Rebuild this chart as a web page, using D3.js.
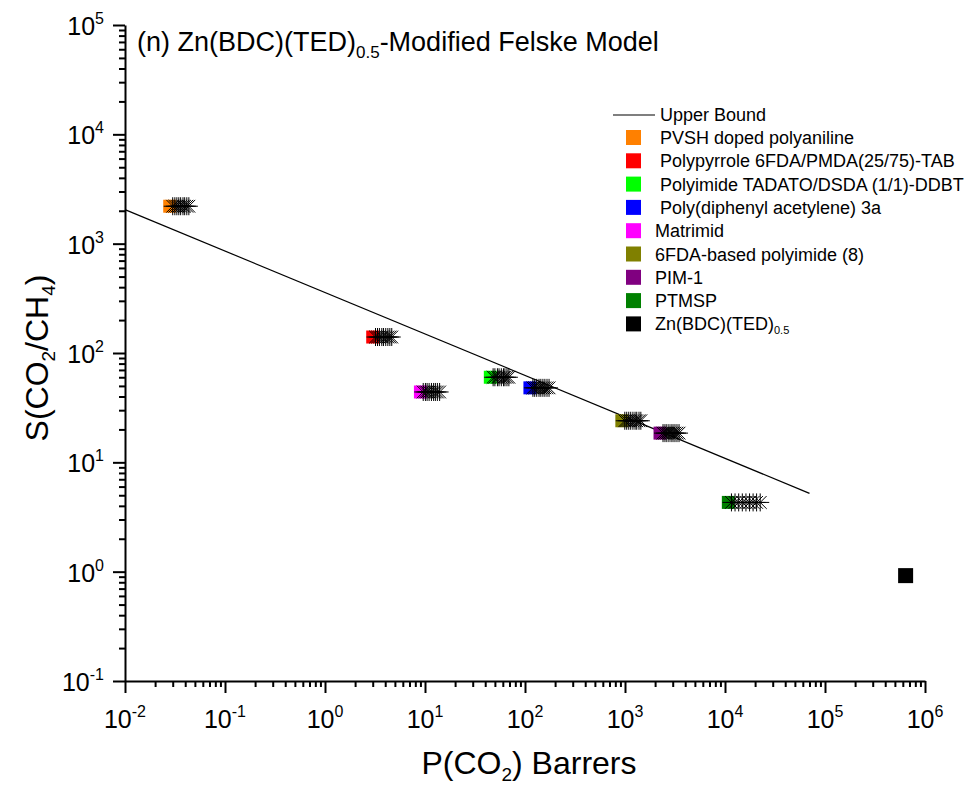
<!DOCTYPE html>
<html>
<head>
<meta charset="utf-8">
<script src="https://cdn.jsdelivr.net/npm/d3@7"></script>
<style>
  html, body { margin: 0; padding: 0; background: #fff; }
  svg { display: block; font-family: "Liberation Sans", Arial, sans-serif; }
  .axis path, .axis line { stroke: #000; stroke-width: 2; }
</style>
</head>
<body>
<svg id="chart" width="974" height="791"></svg>
<script>
// Polymer membranes (legend order) and their CO2/CH4 performance
const polymers = [
  " PVSH doped polyaniline",
  " Polypyrrole 6FDA/PMDA(25/75)-TAB",
  " Polyimide TADATO/DSDA (1/1)-DDBT",
  " Poly(diphenyl acetylene) 3a",
  "Matrimid",
  "6FDA-based polyimide (8)",
  "PIM-1",
  "PTMSP"
];
const polymerColors = ["#FF8000", "#FF0000", "#00FF00", "#0000FF", "#FF00FF", "#808000", "#800080", "#008000"];
const polymerP = [0.028, 3.0, 45, 112, 9.0, 930, 2240, 10800];
const polymerS = [2200, 140, 60, 48, 44, 24, 18.5, 4.3];

// Mixed-matrix predictions (modified Felske model) for each polymer
const mmmP = [
  [0.030, 0.0315, 0.033, 0.0345, 0.036, 0.038, 0.0395, 0.0415, 0.0435],
  [3.2, 3.35, 3.5, 3.7, 3.85, 4.05, 4.25, 4.45, 4.65],
  [48, 50, 53, 55, 58, 61, 63, 66, 69],
  [120, 125, 131, 138, 144, 151, 158, 166, 174],
  [9.6, 10.1, 10.5, 11.0, 11.6, 12.2, 12.7, 13.3, 14.0],
  [995, 1040, 1090, 1140, 1200, 1260, 1310, 1380, 1440],
  [2400, 2510, 2620, 2750, 2890, 3020, 3160, 3310, 3470],
  [11600, 12600, 13700, 14900, 16200, 17600, 19100, 20700, 22500]
];

// MOF filler
const mofLabel = "Zn(BDC)(TED)";
const mofP = 640000;
const mofS = 0.92;

// Upper bound line end points
const upperP = [0.01, 70000];
const upperS = [2050, 5.2];

// Axis ticks (exponents of 10)
const xExponents = [-2, -1, 0, 1, 2, 3, 4, 5, 6];
const yExponents = [-1, 0, 1, 2, 3, 4, 5];

const svg = d3.select("#chart");
const x = d3.scaleLog().domain([1e-2, 1e6]).range([125, 925]);
const y = d3.scaleLog().domain([1e-1, 1e5]).range([681, 25]);

const majorX = xExponents.map(e => Math.pow(10, e));
const majorY = yExponents.map(e => Math.pow(10, e));
const minorOf = (majors) => {
  const out = [];
  for (let i = 0; i < majors.length - 1; i++)
    for (let k = 2; k <= 9; k++) out.push(majors[i] * k);
  return out;
};

// Axes: major and minor ticks pointing outwards
const gx = svg.append("g").attr("class", "axis").attr("transform", "translate(0,681)");
gx.call(d3.axisBottom(x).tickValues(majorX).tickSize(12).tickSizeOuter(0).tickFormat(() => ""));
const gxm = svg.append("g").attr("class", "axis").attr("transform", "translate(0,681)");
gxm.call(d3.axisBottom(x).tickValues(minorOf(majorX)).tickSize(6).tickSizeOuter(0).tickFormat(() => ""));
gxm.select(".domain").remove();

const gy = svg.append("g").attr("class", "axis").attr("transform", "translate(125,0)");
gy.call(d3.axisLeft(y).tickValues(majorY).tickSize(12).tickSizeOuter(0).tickFormat(() => ""));
const gym = svg.append("g").attr("class", "axis").attr("transform", "translate(125,0)");
gym.call(d3.axisLeft(y).tickValues(minorOf(majorY)).tickSize(6).tickSizeOuter(0).tickFormat(() => ""));
gym.select(".domain").remove();

// Power-of-ten tick labels
xExponents.forEach(e => {
  const t = svg.append("text")
    .attr("x", x(Math.pow(10, e)))
    .attr("y", 728)
    .attr("text-anchor", "middle")
    .attr("font-size", 25);
  t.append("tspan").text("10");
  t.append("tspan").attr("font-size", 16).attr("dy", -11).text(e);
});
yExponents.forEach(e => {
  const t = svg.append("text")
    .attr("x", 104)
    .attr("y", y(Math.pow(10, e)) + 10)
    .attr("text-anchor", "end")
    .attr("font-size", 25);
  t.append("tspan").text("10");
  t.append("tspan").attr("font-size", 16).attr("dy", -11).text(e);
});

// Axis titles
const xt = svg.append("text").attr("x", 529).attr("y", 774)
  .attr("text-anchor", "middle").attr("font-size", 32);
xt.append("tspan").text("P(CO");
xt.append("tspan").attr("font-size", 19).attr("dy", 7).text("2");
xt.append("tspan").attr("dy", -7).text(") Barrers");

const yt = svg.append("text")
  .attr("transform", "translate(48,358) rotate(-90)")
  .attr("text-anchor", "middle").attr("font-size", 32);
yt.append("tspan").text("S(CO");
yt.append("tspan").attr("font-size", 19).attr("dy", 7).text("2");
yt.append("tspan").attr("dy", -7).text("/CH");
yt.append("tspan").attr("font-size", 19).attr("dy", 7).text("4");
yt.append("tspan").attr("dy", -7).text(")");

// Title
const title = svg.append("text").attr("x", 137).attr("y", 51).attr("font-size", 27);
title.append("tspan").text("(n) Zn(BDC)(TED)");
title.append("tspan").attr("font-size", 17).attr("dy", 7).text("0.5");
title.append("tspan").attr("dy", -7).text("-Modified Felske Model");

// Upper bound
const line = d3.line().x(d => x(d[0])).y(d => y(d[1]));
svg.append("path")
  .datum(d3.zip(upperP, upperS))
  .attr("d", line)
  .attr("fill", "none")
  .attr("stroke", "#000")
  .attr("stroke-width", 1.2);

// Eight-armed asterisk marker
const asterisk = {
  draw(ctx, size) {
    const r = Math.sqrt(size);
    const d = r * Math.SQRT1_2;
    ctx.moveTo(-r, 0); ctx.lineTo(r, 0);
    ctx.moveTo(0, -r); ctx.lineTo(0, r);
    ctx.moveTo(-d, -d); ctx.lineTo(d, d);
    ctx.moveTo(-d, d); ctx.lineTo(d, -d);
  }
};
const starPath = d3.symbol().type(asterisk).size(81)();

const sq = 13;
polymers.forEach((name, i) => {
  svg.append("rect")
    .attr("x", x(polymerP[i]) - sq / 2)
    .attr("y", y(polymerS[i]) - sq / 2)
    .attr("width", sq).attr("height", sq)
    .attr("fill", polymerColors[i]);
  svg.append("g").selectAll("path")
    .data(mmmP[i])
    .join("path")
    .attr("d", starPath)
    .attr("transform", p => `translate(${x(p)},${y(polymerS[i])})`)
    .attr("fill", "none")
    .attr("stroke", "#000")
    .attr("stroke-width", 1);
});

svg.append("rect")
  .attr("x", x(mofP) - 7.5).attr("y", y(mofS) - 7.5)
  .attr("width", 15).attr("height", 15)
  .attr("fill", "#000");

// Legend
const lg = svg.append("g").attr("font-size", 18);
lg.append("line").attr("x1", 613).attr("x2", 655).attr("y1", 115).attr("y2", 115)
  .attr("stroke", "#000").attr("stroke-width", 1.2);
lg.append("text").attr("x", 660).attr("y", 121).text("Upper Bound");
const rowY = i => 137.5 + i * 23.3;
polymers.forEach((name, i) => {
  lg.append("rect").attr("x", 626).attr("y", rowY(i) - 7.5)
    .attr("width", 15).attr("height", 15).attr("fill", polymerColors[i]);
  lg.append("text").attr("x", 655).attr("y", rowY(i) + 6.5)
    .style("white-space", "pre").text(name);
});
const mi = polymers.length;
lg.append("rect").attr("x", 626).attr("y", rowY(mi) - 7.5)
  .attr("width", 15).attr("height", 15).attr("fill", "#000");
const mt = lg.append("text").attr("x", 655).attr("y", rowY(mi) + 6.5);
mt.append("tspan").text(mofLabel);
mt.append("tspan").attr("font-size", 11).attr("dy", 4).text("0.5");
</script>
</body>
</html>
